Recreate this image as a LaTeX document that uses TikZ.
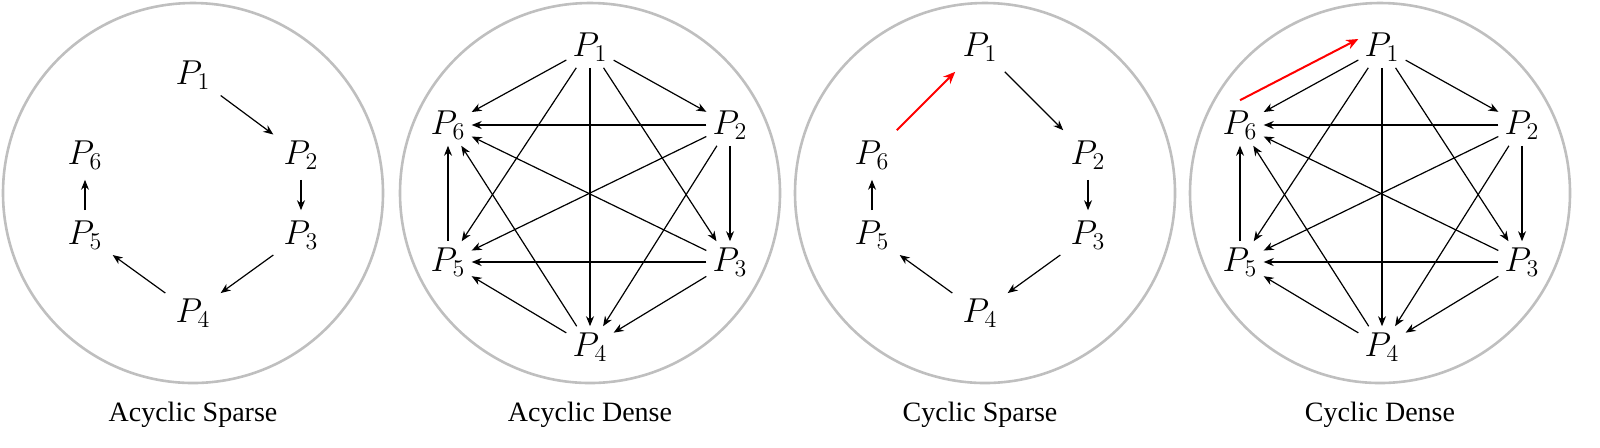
\documentclass[tikz,border=0pt]{standalone}
\usepackage{fontspec}
\setmainfont{Liberation Serif}
\usetikzlibrary{arrows.meta}
\begin{document}
\begin{tikzpicture}[x=0.5pt,y=-0.5pt,
  ring/.style={draw=black!25,line width=1.3pt},
  pn/.style={inner sep=5pt,font=\fontsize{17}{17}\selectfont},
  captxt/.style={font=\fontsize{14}{14}\selectfont},
  e/.style={-{Stealth[length=5pt,width=4pt]},line width=0.6pt},
  red e/.style={e,draw=red,line width=1pt,-{Stealth[length=6pt,width=5pt]}}]
\useasboundingbox (0,0) rectangle (1600,447);
% circles
\foreach \n/\cx in {a/193,b/590,c/985,d/1380}{
  \node[ring,circle,minimum size=190pt] (c\n) at (\cx,193) {};
}
% Acyclic sparse
\begin{scope}[shift={(193,195)}]
\node[pn] (a1) at (0,-120) {$P_1$};
\node[pn] (a2) at (108,-40) {$P_2$};
\node[pn] (a3) at (108,40) {$P_3$};
\node[pn] (a4) at (0,118) {$P_4$};
\node[pn] (a5) at (-108,40) {$P_5$};
\node[pn] (a6) at (-108,-40) {$P_6$};
\end{scope}
\draw[e] (a1)--(a2); \draw[e] (a2)--(a3); \draw[e] (a3)--(a4);
\draw[e] (a4)--(a5); \draw[e] (a5)--(a6);
% Cyclic sparse
\begin{scope}[shift={(980,195)}]
\node[pn] (c1) at (0,-148) {$P_1$};
\node[pn] (c2) at (108,-40) {$P_2$};
\node[pn] (c3) at (108,40) {$P_3$};
\node[pn] (c4) at (0,118) {$P_4$};
\node[pn] (c5) at (-108,40) {$P_5$};
\node[pn] (c6) at (-108,-40) {$P_6$};
\end{scope}
\draw[e] (c1)--(c2); \draw[e] (c2)--(c3); \draw[e] (c3)--(c4);
\draw[e] (c4)--(c5); \draw[e] (c5)--(c6);
\draw[red e] (c6)--(c1);
% Dense
\foreach \g/\cx in {b/590,d/1382}{
\begin{scope}[shift={(\cx,195)}]
\node[pn,inner sep=3pt] (\g1) at (0,-148) {$P_1$};
\node[pn,inner sep=3pt] (\g2) at (140,-70) {$P_2$};
\node[pn,inner sep=3pt] (\g3) at (140,67) {$P_3$};
\node[pn,inner sep=3pt] (\g4) at (0,152) {$P_4$};
\node[pn,inner sep=3pt] (\g5) at (-142,67) {$P_5$};
\node[pn,inner sep=3pt] (\g6) at (-142,-70) {$P_6$};
\end{scope}
\foreach \i/\j in {1/2,1/3,1/4,1/5,1/6,2/3,2/4,2/5,2/6,3/4,3/5,3/6,4/5,4/6,5/6}
  \draw[e] (\g\i)--(\g\j);
}
\draw[red e] ([yshift=2pt]d6.north)--([yshift=4pt]d1.west);
% captions
\node[captxt] at (193,415) {Acyclic Sparse};
\node[captxt] at (590,415) {Acyclic Dense};
\node[captxt] at (980,415) {Cyclic Sparse};
\node[captxt] at (1380,415) {Cyclic Dense};
\end{tikzpicture}
\end{document}
